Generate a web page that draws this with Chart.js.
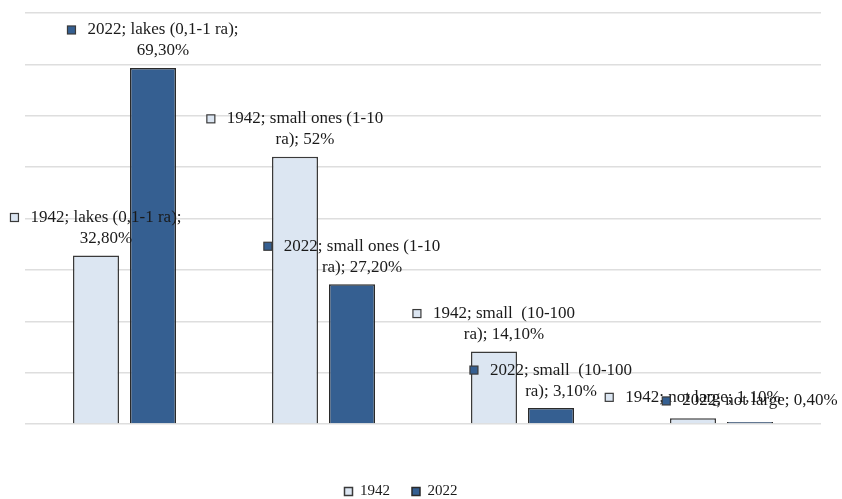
<!DOCTYPE html>
<html>
<head>
<meta charset="utf-8">
<script src="https://cdn.jsdelivr.net/npm/chart.js@4.4.0/dist/chart.umd.min.js"></script>
<style>
    html, body { margin: 0; padding: 0; background: #fff; }
    #wrap { width: 842px; height: 499px; }
</style>
</head>
<body>
<div id="wrap"><canvas id="lakesChart"></canvas></div>
<script>
// chart data
const categories = ['lakes (0,1-1 ra)', 'small ones (1-10 ra)', 'small  (10-100 ra)', 'not large'];
const seriesNames = ['1942', '2022'];
const values1942 = [32.8, 52, 14.1, 1.1];
const values2022 = [69.3, 27.2, 3.1, 0.4];

const labelFont = '17px "Liberation Serif", "Times New Roman", serif';

// format like 69,30% (52 stays 52%)
function formatValue(v) {
    if (Number.isInteger(v)) return v + '%';
    return v.toFixed(2).replace('.', ',') + '%';
}

// wrap a label into lines no wider than maxWidth
function wrapText(ctx, text, maxWidth) {
    const words = text.split(' ');
    const lines = [];
    let line = '';
    words.forEach(word => {
        const test = line ? line + ' ' + word : word;
        if (line && ctx.measureText(test).width > maxWidth) {
            lines.push(line);
            line = word;
        } else {
            line = test;
        }
    });
    if (line) lines.push(line);
    return lines;
}

// Excel-style data labels: marker + "series; category; value"
const dataLabels = {
    id: 'dataLabels',
    afterDatasetsDraw(chart) {
        const ctx = chart.ctx;
        ctx.save();
        ctx.font = labelFont;
        ctx.textBaseline = 'middle';
        chart.data.datasets.forEach((ds, di) => {
            const meta = chart.getDatasetMeta(di);
            meta.data.forEach((bar, i) => {
                const text = ds.label + '; ' + chart.data.labels[i] + '; ' + formatValue(ds.data[i]);
                const lines = wrapText(ctx, text, 165);
                const textW = Math.max(...lines.map(l => ctx.measureText(l).width));
                const markerW = 8, gap = 12, lineH = 21;
                const blockW = markerW + gap + textW;
                const left = bar.x - blockW / 2;
                const textCenter = left + markerW + gap + textW / 2;
                const lastY = bar.y - (lines.length > 1 ? 17 : 21);
                const firstY = lastY - (lines.length - 1) * lineH;

                // marker
                ctx.fillStyle = ds.backgroundColor;
                ctx.strokeStyle = '#3a3a3a';
                ctx.lineWidth = 1.2;
                ctx.fillRect(left, firstY - 4, markerW, markerW);
                ctx.strokeRect(left, firstY - 4, markerW, markerW);

                ctx.fillStyle = '#1a1a1a';
                ctx.textAlign = 'center';
                lines.forEach((l, li) => {
                    ctx.fillText(l, textCenter, firstY + li * lineH);
                });
            });
        });
        ctx.restore();
    }
};

// nudge the legend to where the reference has it
const legendShift = {
    id: 'legendShift',
    afterLayout(chart) {
        const lg = chart.legend;
        const h = lg.bottom - lg.top;
        lg.left -= 22;
        lg.right -= 22;
        lg.top = 462;
        lg.bottom = lg.top + h;
    }
};

const ctx = document.getElementById('lakesChart').getContext('2d');
const chart = new Chart(ctx, {
    type: 'bar',
    data: {
        labels: categories,
        datasets: [
            {
                label: seriesNames[0],
                data: values1942,
                backgroundColor: '#dce6f2',
                borderColor: '#3a3a3a',
                borderWidth: 1.5,
                categoryPercentage: 0.573,
                barPercentage: 0.807
            },
            {
                label: seriesNames[1],
                data: values2022,
                backgroundColor: '#355f91',
                borderColor: '#2a2a2a',
                borderWidth: 1.5,
                categoryPercentage: 0.573,
                barPercentage: 0.807
            }
        ]
    },
    options: {
        responsive: true,
        maintainAspectRatio: false,
        animation: false,
        layout: {
            padding: { top: 13, left: 25, right: 21, bottom: 0 }
        },
        plugins: {
            tooltip: { enabled: false },
            legend: {
                position: 'bottom',
                labels: {
                    usePointStyle: true,
                    pointStyle: 'rect',
                    boxWidth: 8,
                    boxHeight: 8,
                    padding: 22,
                    color: '#1a1a1a',
                    font: { family: '"Liberation Serif", "Times New Roman", serif', size: 15 }
                }
            }
        },
        scales: {
            x: {
                display: true,
                ticks: { display: false },
                grid: { display: false },
                border: { display: false },
                afterFit(scale) { scale.height = 28; }
            },
            y: {
                min: 0,
                max: 80,
                ticks: { display: false, stepSize: 10 },
                grid: { color: '#dedede', lineWidth: 1.5, drawTicks: false },
                border: { display: false }
            }
        }
    },
    plugins: [dataLabels, legendShift]
});
</script>
</body>
</html>
